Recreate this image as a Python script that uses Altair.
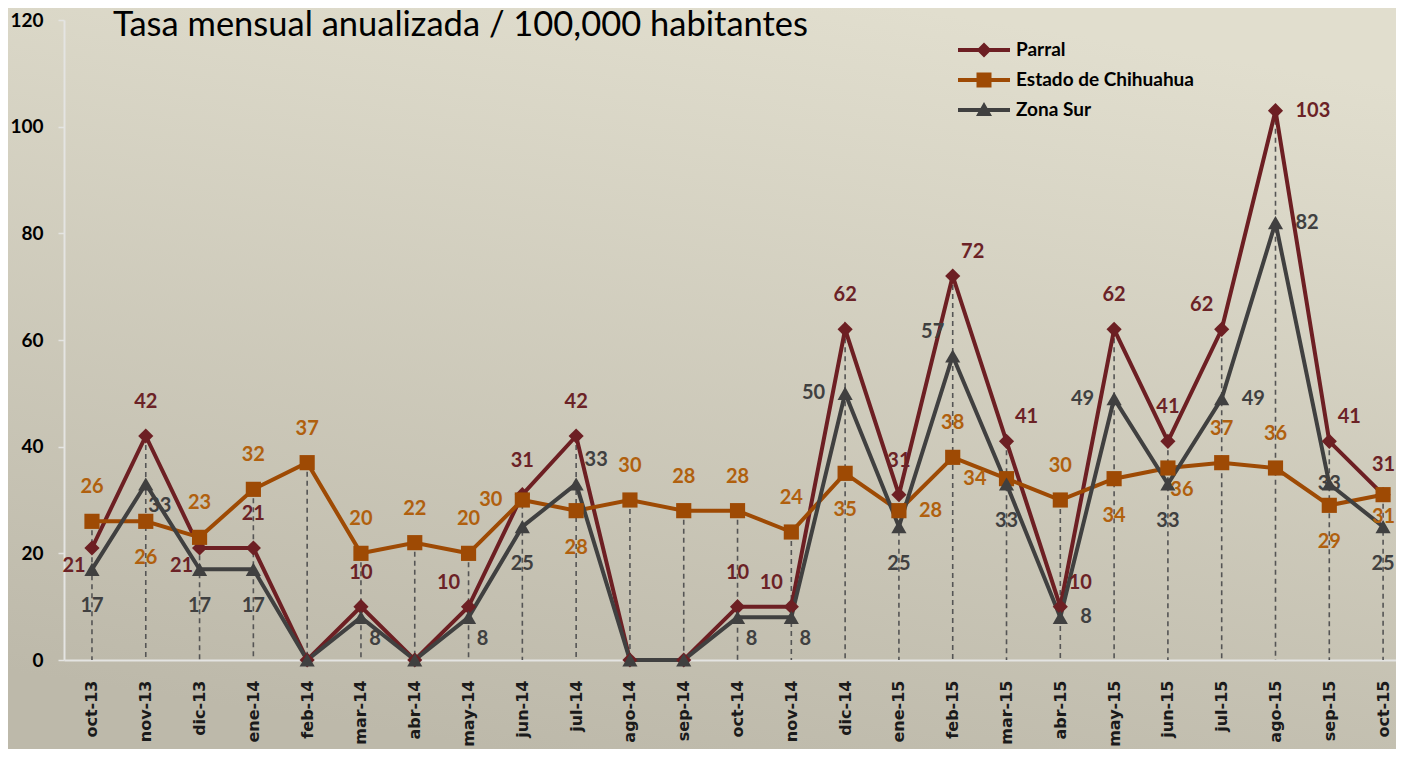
import altair as alt
import pandas as pd

meses = ["oct-13", "nov-13", "dic-13", "ene-14", "feb-14", "mar-14", "abr-14", "may-14",
         "jun-14", "jul-14", "ago-14", "sep-14", "oct-14", "nov-14", "dic-14", "ene-15",
         "feb-15", "mar-15", "abr-15", "may-15", "jun-15", "jul-15", "ago-15", "sep-15", "oct-15"]
series = ["Parral", "Estado de Chihuahua", "Zona Sur"]
parral = [21, 42, 21, 21, 0, 10, 0, 10, 31, 42, 0, 0, 10, 10, 62, 31, 72, 41, 10, 62, 41, 62, 103, 41, 31]
estado = [26, 26, 23, 32, 37, 20, 22, 20, 30, 28, 30, 28, 28, 24, 35, 28, 38, 34, 30, 34, 36, 37, 36, 29, 31]
zona = [17, 33, 17, 17, 0, 8, 0, 8, 25, 33, 0, 0, 8, 8, 50, 25, 57, 33, 8, 49, 33, 49, 82, 33, 25]

# label placement codes (t=above, b=below, l/r=left/right, tl/tr/bl/br diagonal,
# te/be = above/below against the right edge, c=centre, -=none)
parral_pos = ["bl", "t", "bl", "t", "-", "t", "-", "tl", "t", "t", "-", "-", "t", "tl", "t", "t",
              "tr", "tr", "tr", "t", "t", "tl", "r", "tr", "te"]
estado_pos = ["t", "b", "t", "t", "t", "t", "t", "t", "l", "b", "t", "t", "t", "t", "b", "r",
              "t", "l", "t", "b", "br", "t", "t", "b", "be"]
zona_pos = ["b", "br", "b", "b", "-", "br", "-", "br", "b", "tr", "-", "-", "br", "br", "l", "b",
            "tl", "b", "r", "l", "b", "r", "r", "c", "b"]

line_colors = ["#6D1F23", "#9E4A04", "#404040"]
text_colors = ["#6B2226", "#B0600E", "#404040"]

rows = []
for s, vals, pos in zip(series, [parral, estado, zona], [parral_pos, estado_pos, zona_pos]):
    for i, (m, v, p) in enumerate(zip(meses, vals, pos)):
        rows.append({"Idx": i, "Mes": m, "Serie": s, "Valor": v, "Pos": p})
df = pd.DataFrame(rows)

W, H = 1388, 741
Y0, Y1 = 652, 12

month_expr = "[" + ",".join(f"'{m}'" for m in meses) + "][datum.value]"

x_axis = alt.Axis(title=None, values=list(range(len(meses))), labelExpr=month_expr,
                  labelAngle=270, labelFont="DejaVu Sans", labelFontWeight="bold",
                  labelFontSize=16, labelColor="#1a1a1a", labelPadding=20, ticks=False,
                  labelOverlap=False, labelFlush=False,
                  domainColor="#E4E4E2", domainWidth=2, grid=False, offset=-(H - Y0))
y_axis = alt.Axis(title=None, values=[0, 20, 40, 60, 80, 100, 120], labelFont="Lato",
                  labelFontWeight="bold", labelFontSize=19, labelColor="black", tickSize=6,
                  tickColor="#E4E4E2", tickWidth=1.5, labelPadding=15, domainColor="#E4E4E2",
                  domainWidth=2, grid=False, offset=-56)

x_scale = alt.Scale(domain=[-0.52, 24.24], range=[56, 1388], nice=False, zero=False)
y_scale = alt.Scale(domain=[0, 120], range=[Y0, Y1])
x_enc = alt.X("Idx:Q", scale=x_scale, axis=x_axis)
y_enc = alt.Y("Valor:Q", scale=y_scale, axis=y_axis)

base = alt.Chart(df)

drops = base.transform_aggregate(
    top="max(Valor)", groupby=["Idx"]
).mark_rule(color="#555555", strokeWidth=1.6, strokeDash=[5, 4]).encode(
    x=x_enc,
    y=alt.Y("top:Q", scale=y_scale, axis=y_axis),
    y2=alt.datum(0),
)

lines = base.mark_line(strokeWidth=4).encode(
    x=x_enc, y=y_enc,
    color=alt.Color("Serie:N", scale=alt.Scale(domain=series, range=line_colors), legend=None),
    detail="Serie:N",
)

points = base.mark_point(filled=True, opacity=1, size=230, strokeWidth=0).encode(
    x=x_enc, y=y_enc,
    color=alt.Color("Serie:N", scale=alt.Scale(domain=series, range=line_colors), legend=None),
    shape=alt.Shape("Serie:N", scale=alt.Scale(domain=series, range=["diamond", "square", "triangle-up"]),
                    legend=None),
)

offs = {
    "t": ("center", 0, -34), "b": ("center", 0, 37), "l": ("right", -20, 0), "r": ("left", 20, 0),
    "tl": ("center", -20, -24), "tr": ("center", 20, -24), "bl": ("center", -18, 18),
    "br": ("center", 14, 22), "c": ("center", 0, 0),
    "te": ("right", 12, -30), "be": ("right", 12, 22),
}
label_layers = []
for k, (al, dx, dy) in offs.items():
    label_layers.append(
        base.transform_filter(f"datum.Pos == '{k}' && datum.Valor > 0").mark_text(
            align=al, baseline="middle", dx=dx, dy=dy, font="Lato", fontSize=20, fontWeight="bold"
        ).encode(
            x=x_enc, y=y_enc, text=alt.Text("Valor:Q", format="d"),
            color=alt.Color("Serie:N", scale=alt.Scale(domain=series, range=text_colors), legend=None),
        )
    )

leg_paths = [
    "M-2.6,-0.2H2.6V0.2H-2.6Z M0,-0.75L0.75,0L0,0.75L-0.75,0Z",
    "M-2.6,-0.2H2.6V0.2H-2.6Z M-0.75,-0.75H0.75V0.75H-0.75Z",
    "M-2.6,-0.2H2.6V0.2H-2.6Z M0,-0.8L0.8,0.6H-0.8Z",
]
leg_def = dict(orient="none", legendX=966, legendY=32, title=None, labelFont="Lato",
               labelFontSize=19, labelFontWeight="bold", labelColor="black", symbolSize=400,
               symbolStrokeWidth=0, labelOffset=22, rowPadding=10, padding=0, labelLimit=400)
legend_layer = base.transform_filter("false").mark_point(
    filled=True, opacity=1, size=400, strokeWidth=0
).encode(
    x=x_enc, y=y_enc,
    color=alt.Color("Serie:N", scale=alt.Scale(domain=series, range=line_colors),
                    legend=alt.Legend(**leg_def)),
    shape=alt.Shape("Serie:N", scale=alt.Scale(domain=series, range=leg_paths),
                    legend=alt.Legend(**leg_def)),
)

grad = ("{gradient: 'linear', x1: 0.65, y1: 0, x2: 0.35, y2: 1, "
        "stops: [{offset: 0, color: '#E1DECE'}, {offset: 1, color: '#BDB9AA'}]}")

chart = alt.layer(drops, lines, points, *label_layers, legend_layer).resolve_scale(
    color="independent", shape="independent"
).properties(
    width=W, height=H,
    autosize=alt.AutoSizeParams(type="none"),
    padding=0,
    background="#D2CEBE",
    title=alt.TitleParams("Tasa mensual anualizada / 100,000 habitantes", anchor="start",
                          offset=-62, dx=105, font="Lato", fontSize=34.5, fontWeight="normal",
                          color="black", baseline="alphabetic"),
).configure_view(
    stroke=None,
    fill={"expr": grad},
)

chart.save("out.html", embed_options={"renderer": "svg", "actions": False})
